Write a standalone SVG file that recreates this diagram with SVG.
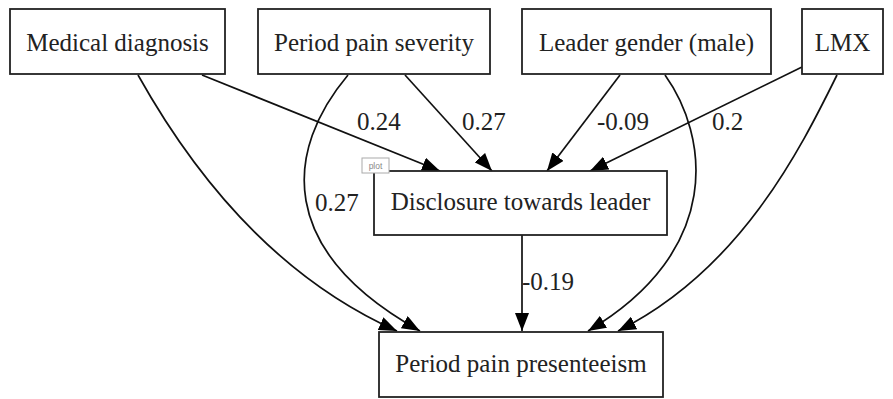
<svg xmlns="http://www.w3.org/2000/svg" width="893" height="399" viewBox="0 0 893 399">
<style>
.box{fill:#fff;stroke:#222;stroke-width:1.8}
.nt{font-family:"Liberation Serif","Times New Roman",serif;font-size:25px;fill:#222;text-anchor:middle}
.el{font-family:"Liberation Serif","Times New Roman",serif;font-size:25px;fill:#222}
.edge{fill:none;stroke:#111;stroke-width:1.7}
.tag{fill:#fff;stroke:#aaa;stroke-width:1}
.tagt{font-family:"Liberation Sans",Arial,sans-serif;font-size:8.5px;fill:#888;text-anchor:middle}
</style>
<defs>
<marker id="arr" markerUnits="userSpaceOnUse" markerWidth="18" markerHeight="14" refX="18" refY="7" orient="auto">
<path d="M0,0 L18,7 L0,14 z" fill="#000"/>
</marker>
</defs>
<rect width="893" height="399" fill="#fff"/>
<g id="connectors">
<path class="edge" marker-end="url(#arr)" d="M138,75 C180,150 260,270 397,331"/>
<path class="edge" marker-end="url(#arr)" d="M348,75 C285,150 275,250 420,331"/>
<path class="edge" marker-end="url(#arr)" d="M665,75 C708,135 725,250 588,331"/>
<path class="edge" marker-end="url(#arr)" d="M837,75 C800,150 740,270 618,331"/>
<path class="edge" marker-end="url(#arr)" d="M202,75 L440,171"/>
<path class="edge" marker-end="url(#arr)" d="M405,75 L492,171"/>
<path class="edge" marker-end="url(#arr)" d="M620,75 L547,171"/>
<path class="edge" marker-end="url(#arr)" d="M802,67 L590,171"/>
<path class="edge" marker-end="url(#arr)" d="M522,235 L522,331"/>
<text class="el" x="357" y="130">0.24</text>
<text class="el" x="462" y="130">0.27</text>
<text class="el" x="597" y="130">-0.09</text>
<text class="el" x="712" y="130">0.2</text>
<text class="el" x="315" y="211">0.27</text>
<text class="el" x="522" y="290">-0.19</text>
</g>
<g id="medical">
<rect class="box" x="10" y="9" width="215" height="65"/>
<text class="nt" x="117.5" y="51">Medical diagnosis</text>
</g>
<g id="severity">
<rect class="box" x="258" y="9" width="232" height="65"/>
<text class="nt" x="374" y="51">Period pain severity</text>
</g>
<g id="gender">
<rect class="box" x="522" y="9" width="249" height="65"/>
<text class="nt" x="646.5" y="51">Leader gender (male)</text>
</g>
<g id="lmx">
<rect class="box" x="802" y="9" width="81" height="65"/>
<text class="nt" x="842.5" y="51">LMX</text>
</g>
<g id="disclosure">
<rect class="box" x="374" y="171" width="293" height="64"/>
<text class="nt" x="520.5" y="210">Disclosure towards leader</text>
<rect class="tag" x="362" y="158" width="27" height="15"/>
<text class="tagt" x="375.5" y="168.5">plot</text>
</g>
<g id="presenteeism">
<rect class="box" x="379" y="332" width="284" height="65"/>
<text class="nt" x="521" y="372">Period pain presenteeism</text>
</g>
</svg>
